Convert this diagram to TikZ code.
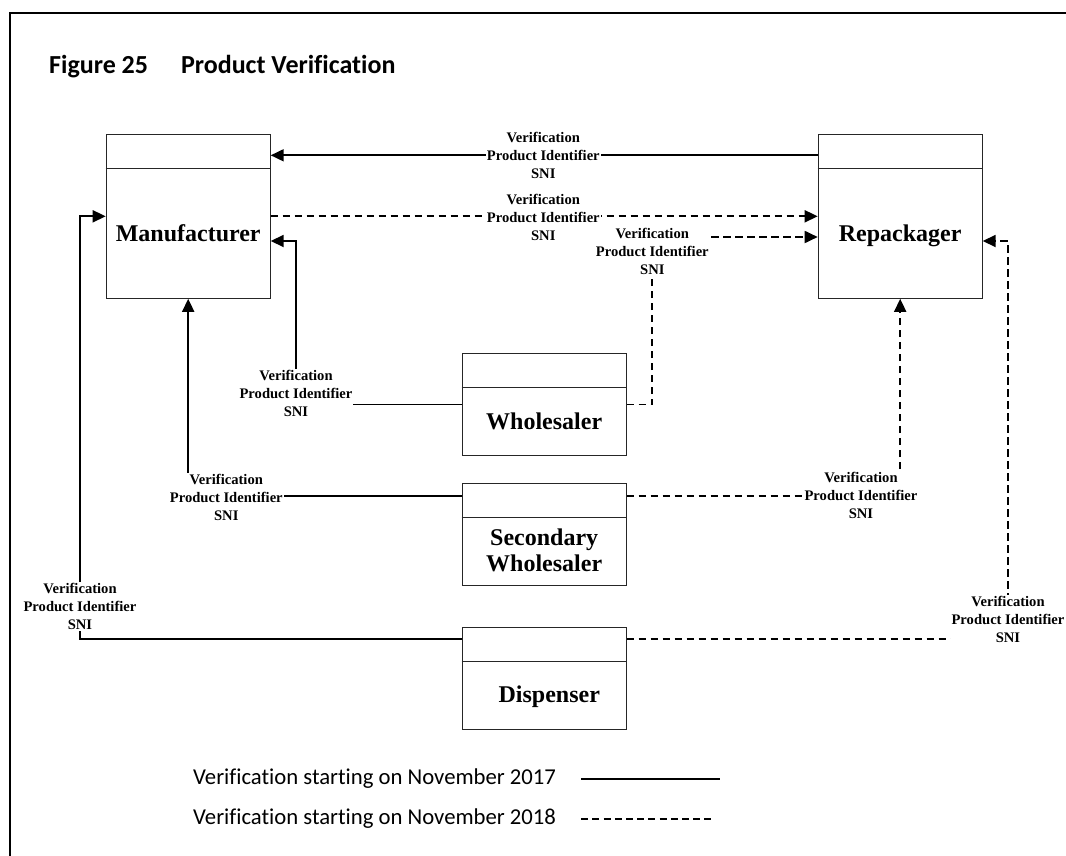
\documentclass[tikz,border=0pt]{standalone}
\usepackage{fontspec}
\setmainfont{Liberation Serif}
\newfontfamily\calfont[Ligatures=NoCommon]{Carlito}
\usetikzlibrary{arrows.meta,calc}
\pgfdeclarelayer{background}
\pgfsetlayers{background,main}

\begin{document}
\begin{tikzpicture}[x=1pt,y=-1pt,
  box/.style={draw=black!85, line width=1pt, fill=white, inner sep=0pt, minimum width=164pt},
  bigbox/.style={box, minimum height=164pt},
  smallbox/.style={box, minimum height=102.4pt},
  boxname/.style={font=\fontsize{24}{26.7}\selectfont\bfseries, align=center, inner sep=0pt, anchor=base},
  flowlabel/.style={font=\fontsize{14.6}{18}\selectfont\bfseries, align=center, fill=white, inner sep=1pt},
  con/.style={line width=1.8pt, -{Triangle[length=13pt,width=12pt]}},
  dcon/.style={con, dash pattern=on 7.5pt off 4.5pt},
  legendtext/.style={font=\calfont\fontsize{22.7}{27}\selectfont, anchor=west, inner sep=0pt},
]
\useasboundingbox (0,0) rectangle (1066,856);

% page frame
\draw[line width=1.6pt] (10,856) -- (10,13) -- (1066,13);

% title
\node[anchor=base west, inner sep=0pt, font=\calfont\bfseries\fontsize{26}{30}\selectfont] (title) at (49,73.3)
  {Figure 25\hspace{33pt}Product Verification};

% parties
\node[bigbox]   (man) at (188.2,216.3) {};
\node[bigbox]   (rep) at (900.2,216.3) {};
\node[smallbox] (wh)  at (544.2,404.5) {};
\node[smallbox] (sw)  at (544.2,534.7) {};
\node[smallbox] (dis) at (544.2,678.3) {};

\foreach \b in {man,rep,wh,sw,dis}
  \draw[black!85, line width=1pt] ($(\b.north west)+(0,34.4)$) -- ($(\b.north east)+(0,34.4)$);

% names (base anchor sits on the last line's baseline)
\node[boxname] (manT) at (188.2,241.7) {Manufacturer};
\node[boxname] (repT) at (900.2,241.7) {Repackager};
\node[boxname] (whT)  at (544.2,429.3) {Wholesaler};
\node[boxname] (swT)  at (544.2,571.7) {Secondary\\Wholesaler};
\node[boxname] (disT) at (549.3,702.3) {Dispenser};

% exchanged data labels
\node[flowlabel] (lab1) at (543.3,155.3) {Verification\\Product Identifier\\SNI};
\node[flowlabel] (lab2) at (543.3,217)   {Verification\\Product Identifier\\SNI};
\node[flowlabel] (lab3) at (652.3,251)   {Verification\\Product Identifier\\SNI};
\node[flowlabel] (lab4) at (296,393.5)   {Verification\\Product Identifier\\SNI};
\node[flowlabel] (lab5) at (226.3,497)   {Verification\\Product Identifier\\SNI};
\node[flowlabel] (lab6) at (80,606.5)    {Verification\\Product Identifier\\SNI};
\node[flowlabel] (lab7) at (861,495)     {Verification\\Product Identifier\\SNI};
\node[flowlabel] (lab8) at (1008,619.3)  {Verification\\Product Identifier\\SNI};

% connectors (behind the labels)
\begin{pgfonlayer}{background}
  \draw[con]  (rep.west |- lab1) -- (man.east |- lab1);
  \draw[dcon] (man.east) -- (rep.west);
  \draw[dcon] (wh.east) -| (lab3.center) |- ($(rep.west)+(0,20.7)$);
  \draw[con]  (wh.west) -| (lab4.center) |- ($(man.east)+(0,24.7)$);
  \draw[con]  ($(sw.north west)+(0,12.7)$) -| (man.south);
  \draw[con]  ($(dis.north west)+(0,12.7)$) -| (lab6.center) |- (man.west);
  \draw[dcon] ($(sw.north east)+(0,12.7)$) -| (rep.south);
  \draw[dcon] ($(dis.north east)+(0,12.7)$) -| (lab8.center) |- ($(rep.east)+(0,24.7)$);
\end{pgfonlayer}

% legend
\node[legendtext] (leg1) at (193,779) {Verification starting on November 2017};
\node[legendtext] (leg2) at (193,819) {Verification starting on November 2018};
\draw[line width=2.2pt] ([xshift=25pt]leg1.east) -- ++(138.4,0);
\draw[line width=1.4pt, dash pattern=on 7pt off 4.2pt] ([xshift=25pt]leg2.east) -- ++(133,0);

\end{tikzpicture}
\end{document}
